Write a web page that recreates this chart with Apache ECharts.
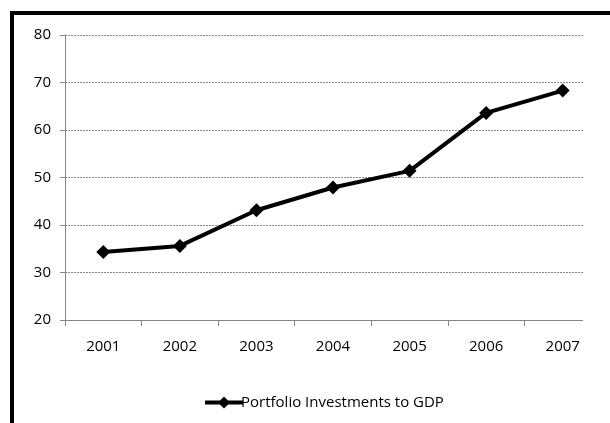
<!DOCTYPE html>
<html>
<head>
<meta charset="utf-8">
<script src="https://cdn.jsdelivr.net/npm/echarts@6/dist/echarts.min.js"></script>
<style>
html,body{margin:0;padding:0;background:#fff;}
#chart{width:610px;height:423px;}
</style>
</head>
<body>
<div id="chart"></div>
<script>
const categories = ['2001','2002','2003','2004','2005','2006','2007'];
const seriesName = 'Portfolio Investments to GDP';
const values = [34.3, 35.6, 43.1, 47.9, 51.4, 63.6, 68.3];
const yTicks = {min: 20, max: 80, interval: 10};

const chart = echarts.init(document.getElementById('chart'), null, {renderer: 'canvas'});
const font = "'Open Sans', 'Liberation Sans', sans-serif";
chart.setOption({
  backgroundColor: '#ffffff',
  animation: false,
  textStyle: {fontFamily: font},
  grid: {left: 65, top: 35, right: 9, bottom: 103, containLabel: false},
  xAxis: {
    type: 'category',
    data: categories,
    boundaryGap: true,
    axisLine: {lineStyle: {color: '#868686', width: 1}},
    axisTick: {show: true, length: 6, alignWithLabel: false, lineStyle: {color: '#868686'}},
    axisLabel: {color: '#000', fontSize: 15, margin: 19, fontFamily: font}
  },
  yAxis: {
    type: 'value',
    min: yTicks.min, max: yTicks.max, interval: yTicks.interval,
    axisLine: {show: true, lineStyle: {color: '#868686', width: 1}},
    axisTick: {show: true, length: 5, lineStyle: {color: '#868686'}},
    axisLabel: {color: '#000', fontSize: 15, margin: 14, fontFamily: font},
    splitLine: {show: true, lineStyle: {color: '#8a8a8a', type: [2, 1], width: 1}}
  },
  legend: {
    show: true,
    left: 198,
    top: 390,
    itemWidth: 38,
    itemHeight: 15,
    itemGap: 10,
    lineStyle: {width: 4, color: '#000'},
    textStyle: {color: '#000', fontSize: 15, fontFamily: font, padding: [0, 0, 0, -7]},
    data: [{name: seriesName}]
  },
  series: [{
    name: seriesName,
    type: 'line',
    data: values,
    symbol: 'diamond',
    symbolSize: 14,
    lineStyle: {color: '#000', width: 4},
    itemStyle: {color: '#000'}
  }],
  graphic: [
    {type: 'rect', z: 100, shape: {x: 583, y: 25, width: 24, height: 305}, style: {fill: '#ffffff'}},
    {type: 'rect', z: 101, shape: {x: 12, y: 13, width: 700, height: 500}, style: {fill: null, stroke: '#000', lineWidth: 4}}
  ]
});
</script>
</body>
</html>
